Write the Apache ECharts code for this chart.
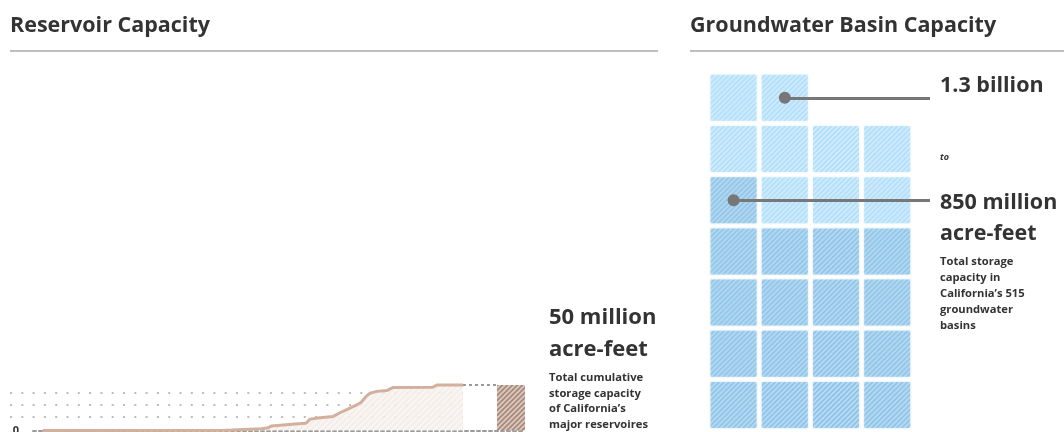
<!DOCTYPE html>
<html>
<head>
<meta charset="utf-8">
<script src="https://cdn.jsdelivr.net/npm/echarts@6/dist/echarts.min.js"></script>
<style>
html, body { margin: 0; padding: 0; background: #fff; }
#chart_container { width: 1064px; height: 432px; }
</style>
</head>
<body>
<div id="chart_container"></div>
<script>
// reservoir vs groundwater capacity

// reservoirs ordered by size (position along the axis, 0..100)
var reservoirRank = [2.0, 39.0, 40.4, 46.5, 47.8, 48.4, 53.9, 55.5, 56.3, 58.3, 61.0, 62.4, 64.4, 65.6, 66.7, 67.7, 68.5, 69.9, 72.0, 73.2, 81.3, 82.1, 87.4];
// cumulative storage, million acre-feet
var cumulativeStorage = [0, 0.3, 0.5, 2, 3, 5, 7.5, 8, 12.5, 14, 15.5, 19.5, 24.5, 27.5, 31, 37.5, 41, 43, 44, 47.3, 47.6, 50, 50];
var reservoirTotal = 50;          // million acre-feet
var totalBox = [94.3, 100];       // where the total block sits on the axis
var yTicks = [0];

// groundwater estimates, million acre-feet
var basinLow  = 850;
var basinHigh = 1300;
var unitSize  = 50;               // one square = 50 million acre-feet
var perRow    = 4;

var FONT = '"Open Sans", sans-serif';
var SQ = 46;                      // square size in px

var chartDom = document.getElementById('chart_container');
var myChart = echarts.init(chartDom);

// diagonal hatch fill
//   scale: symbols are drawn in a 2x2 box and scaled up, so the pattern must shrink
function hatch(base, stripe, size, width, scale) {
    let c = document.createElement('canvas');
    c.width = size;
    c.height = size;
    let ctx = c.getContext('2d');
    ctx.fillStyle = base;
    ctx.fillRect(0, 0, size, size);
    ctx.strokeStyle = stripe;
    ctx.lineWidth = width;
    ctx.beginPath();
    ctx.moveTo(-1, 1);          ctx.lineTo(1, -1);
    ctx.moveTo(0, size);        ctx.lineTo(size, 0);
    ctx.moveTo(size - 1, size + 1); ctx.lineTo(size + 1, size - 1);
    ctx.stroke();
    let p = { image: c, repeat: 'repeat' };
    if (scale) {
        p.scaleX = scale;
        p.scaleY = scale;
    }
    return p;
}

var areaFill  = hatch('rgba(243,236,231,0.85)', 'rgba(255,255,255,0.55)', 6, 1.5);
var boxFill   = hatch('#a98b7c', '#dccbc1', 5, 1.6);
var lightFill = hatch('#a6daf9', '#d2edfd', 5, 1.6, 2 / SQ);
var darkFill  = hatch('#7fbbe5', '#b5dbf3', 5, 1.6, 2 / SQ);

var reservoirData = reservoirRank.map((x, i) => [x, cumulativeStorage[i]]);

// squares, filled from the bottom left
var darkSquares = [];
var lightSquares = [];
for (let i = 0; i < basinHigh / unitSize; i++) {
    let pt = [i % perRow, Math.floor(i / perRow)];
    if (i < basinLow / unitSize) darkSquares.push(pt);
    else lightSquares.push(pt);
}
var lastDark  = darkSquares[darkSquares.length - 1];
var lastLight = lightSquares[lightSquares.length - 1];
var calloutEnd = 3.836;

function callout(pt) {
    return [
        [
            { coord: pt, symbol: 'circle', symbolSize: 12 },
            { coord: [calloutEnd, pt[1]], symbol: 'none' }
        ]
    ];
}

function txt(x, y, text, size, extra) {
    return {
        type: 'text',
        x: x,
        y: y,
        style: Object.assign({
            text: text,
            fill: '#333',
            font: 'bold ' + size + 'px ' + FONT,
            verticalAlign: 'middle'
        }, extra || {})
    };
}

var option = {
    animation: false,
    textStyle: { fontFamily: FONT },
    grid: [
        // reservoir line
        { left: 33, right: 539, top: 385, bottom: 1.5, outerBoundsMode: 'none', containLabel: false },
        // dot background
        { left: 10, right: 601, top: 381, bottom: 15, outerBoundsMode: 'none', containLabel: false },
        // groundwater squares
        { left: 708, right: 125.6, top: 72.2, bottom: 1.4, outerBoundsMode: 'none', containLabel: false }
    ],
    xAxis: [
        {
            gridIndex: 0, type: 'value', min: 0, max: 100,
            axisLine: { show: true, lineStyle: { color: '#9a9a9a', width: 2, type: [3, 3] } },
            axisTick: { show: false }, axisLabel: { show: false }, splitLine: { show: false }
        },
        {
            gridIndex: 1, type: 'value', min: 0, max: 1, show: false
        },
        {
            gridIndex: 2, type: 'value', min: -0.5, max: 4, show: false
        }
    ],
    yAxis: [
        {
            gridIndex: 0, type: 'value', min: 0, max: reservoirTotal, interval: reservoirTotal,
            axisLine: { show: false }, axisTick: { show: false }, splitLine: { show: false },
            axisLabel: {
                showMaxLabel: false, margin: 14,
                color: '#333', fontWeight: 'bold', fontSize: 11, fontFamily: FONT,
                formatter: v => yTicks.indexOf(v) >= 0 ? String(v) : ''
            }
        },
        {
            gridIndex: 1, type: 'value', min: 0, max: 36, interval: 12,
            axisLine: { show: false }, axisTick: { show: false }, axisLabel: { show: false },
            splitLine: {
                show: true, showMaxLine: false,
                lineStyle: { color: '#bdbdbd', width: 2, type: [2, 9.3] }
            }
        },
        {
            gridIndex: 2, type: 'value', min: -0.5, max: 6.5, show: false
        }
    ],
    series: [
        {
            name: 'reservoirs',
            type: 'line',
            xAxisIndex: 0, yAxisIndex: 0,
            data: reservoirData,
            showSymbol: false,
            clip: false,
            lineStyle: { color: '#d3b09e', width: 3 },
            areaStyle: { color: areaFill, opacity: 1 },
            markArea: {
                silent: true,
                itemStyle: { color: boxFill },
                data: [[{ coord: [totalBox[0], 0] }, { coord: [totalBox[1], reservoirTotal] }]]
            },
            markLine: {
                silent: true,
                symbol: 'none',
                label: { show: false },
                lineStyle: { color: '#9a9a9a', width: 2, type: [3, 3] },
                data: [[
                    { coord: [reservoirRank[reservoirRank.length - 1], reservoirTotal] },
                    { coord: [totalBox[0], reservoirTotal] }
                ]]
            }
        },
        {
            name: '850 million',
            type: 'scatter',
            xAxisIndex: 2, yAxisIndex: 2,
            data: darkSquares,
            symbol: 'rect',
            symbolSize: SQ,
            itemStyle: { color: darkFill, shadowColor: 'rgba(130,189,230,0.5)', shadowBlur: 2 },
            markLine: {
                silent: true,
                label: { show: false },
                lineStyle: { color: '#777', width: 3, type: 'solid' },
                data: callout(lastDark)
            }
        },
        {
            name: '1.3 billion',
            type: 'scatter',
            xAxisIndex: 2, yAxisIndex: 2,
            data: lightSquares,
            symbol: 'rect',
            symbolSize: SQ,
            itemStyle: { color: lightFill, shadowColor: 'rgba(169,219,249,0.5)', shadowBlur: 2 },
            markLine: {
                silent: true,
                label: { show: false },
                lineStyle: { color: '#777', width: 3, type: 'solid' },
                data: callout(lastLight)
            }
        }
    ],
    graphic: [
        txt(10, 26, 'Reservoir Capacity', 21.5),
        txt(690, 26, 'Groundwater Basin Capacity', 21.5),
        { type: 'line', shape: { x1: 10, y1: 51, x2: 658, y2: 51 }, style: { stroke: '#a8a8a8', lineWidth: 1.5 } },
        { type: 'line', shape: { x1: 690, y1: 51, x2: 1064, y2: 51 }, style: { stroke: '#a8a8a8', lineWidth: 1.5 } },

        txt(549, 318, '50 million', 22),
        txt(549, 350, 'acre-feet', 22),
        txt(549, 378, 'Total cumulative\nstorage capacity\nof California\u2019s\nmajor reservoires', 11.2,
            { verticalAlign: 'top', lineHeight: 15.6 }),

        txt(940, 86, '1.3 billion', 21.5),
        txt(940, 157, 'to', 9, { font: 'italic bold 9px ' + FONT }),
        txt(940, 203, '850 million', 21.5),
        txt(940, 234, 'acre-feet', 21.5),
        txt(940, 262, 'Total storage\ncapacity in\nCalifornia\u2019s 515\ngroundwater\nbasins', 11.2,
            { verticalAlign: 'top', lineHeight: 16 })
    ]
};

// multi-line blocks: move the first line centre onto its y
option.graphic.forEach(g => {
    if (g.style && g.style.verticalAlign === 'top') {
        g.y = g.y - g.style.lineHeight / 2;
    }
});

myChart.setOption(option);
console.log('chart ready');
</script>
</body>
</html>
